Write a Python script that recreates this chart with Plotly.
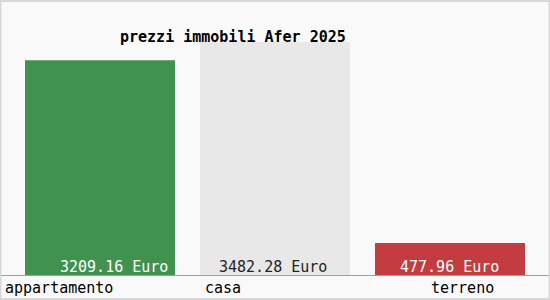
import plotly.graph_objects as go

categories = ["appartamento", "casa", "terreno"]
values = [3209.16, 3482.28, 477.96]
value_labels = ["3209.16 Euro", "3482.28 Euro", "477.96 Euro"]
bar_colors = ["#41914f", "#e8e8e8", "#c23c40"]
label_colors = ["#ffffff", "#222222", "#ffffff"]
title_text = "prezzi immobili Afer 2025"

W, H = 550, 300
top, bottom = 42, 25
plot_h = H - top - bottom

fig = go.Figure()
fig.add_trace(go.Bar(
    x=[0, 1, 2], y=values, width=150 / 175,
    marker=dict(color=bar_colors, line=dict(width=0)),
    hoverinfo="skip",
))

font = "DejaVu Sans Mono"
ann = []
# title
ann.append(dict(text="<b>" + title_text + "</b>", xref="paper", yref="paper",
                x=118 / W, y=1 + 5 / plot_h, xanchor="left", yanchor="middle",
                showarrow=False, font=dict(family=font, size=15, color="#000")))
# value labels
val_x = [113.5, 273, 449]
for vx, t, c in zip(val_x, value_labels, label_colors):
    ann.append(dict(text=t, xref="paper", yref="paper", x=vx / W,
                    y=8 / plot_h, xanchor="center", yanchor="middle",
                    showarrow=False, font=dict(family=font, size=15, color=c)))
# category labels
cat_x = [3, 203, 429]
for cx, t in zip(cat_x, categories):
    ann.append(dict(text=t, xref="paper", yref="paper", x=cx / W,
                    y=-13 / plot_h, xanchor="left", yanchor="middle",
                    showarrow=False, font=dict(family=font, size=15, color="#000")))

fig.update_layout(
    width=W, height=H,
    margin=dict(l=0, r=0, t=top, b=bottom, pad=0),
    paper_bgcolor="#f9f9f9", plot_bgcolor="#f9f9f9",
    showlegend=False,
    annotations=ann,
    xaxis=dict(range=[-100 / 175, 450 / 175], showticklabels=False, showgrid=False,
               zeroline=False, showline=True, linecolor="#a0a0a0", linewidth=1,
               fixedrange=True),
    yaxis=dict(range=[0, 3482.28], showticklabels=False, showgrid=False,
               zeroline=False, showline=False, fixedrange=True),
    shapes=[dict(type="rect", xref="paper", yref="paper",
                 x0=0.5 / W, x1=1 - 0.5 / W,
                 y0=-(bottom - 1) / plot_h, y1=1 + (top - 1) / plot_h,
                 line=dict(color="#d8d8d8", width=2), fillcolor="rgba(0,0,0,0)",
                 layer="above")],
)
fig.write_html("out.html", config={"displayModeBar": False})
